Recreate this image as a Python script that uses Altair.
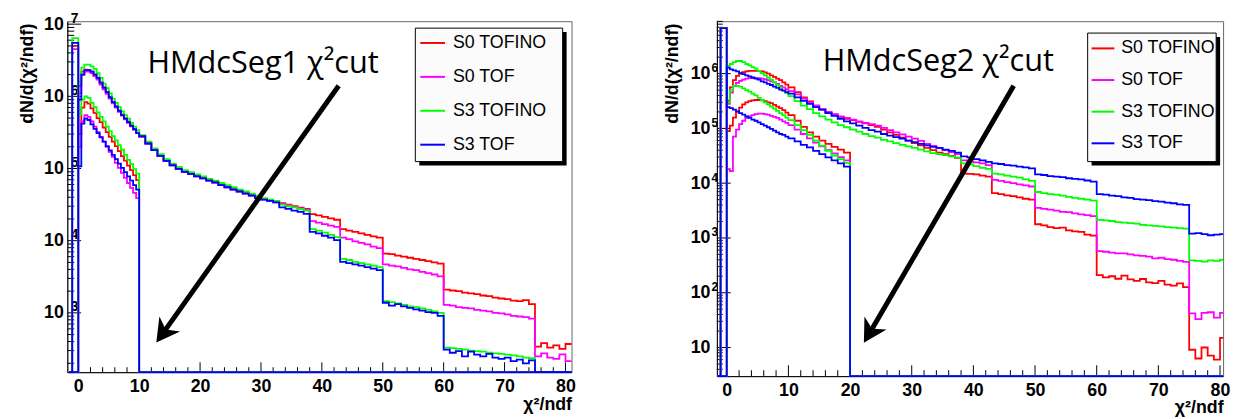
import altair as alt
import pandas as pd

FONT = "Liberation Sans"
SERIES = ["S0 TOFINO", "S0 TOF", "S3 TOFINO", "S3 TOF"]
COLORS = ["#ff0000", "#ff00ff", "#00ff00", "#0000ff"]

# ---- bin edges (chi2/ndf): fine bins near the peak, unit bins in the tail
FINE = [-1.5, -1.0, -0.5] + [k / 2 for k in range(0, 20)]
EDGES_1 = FINE + list(range(10, 81)) + [81]
EDGES_2 = FINE + list(range(10, 81)) + [80.5]

X_LABELS = [0, 10, 20, 30, 40, 50, 60, 70, 80]
X_MINOR = [v for v in range(0, 81, 2) if v % 10 != 0]

# ---- HMdcSeg1 panel: counts per bin (upper = full range, lower = spike + cut at 10)
L_RED_UP = [0, 0, 0,
    1.4e6, 2.2e6, 2.35e6, 2.3e6, 2.2e6, 2.0e6, 1.8e6, 1.55e6, 1.33e6, 1.15e6,
    9.8e5, 8.4e5, 7.3e5, 6.4e5, 5.6e5, 5.0e5, 4.5e5, 4.0e5, 3.55e5, 3.15e5,
    2.8e5, 2.24e5, 1.82e5, 1.51e5, 1.29e5, 1.12e5, 1.0e5, 9.1e4, 8.5e4, 7.9e4,
    7.4e4, 6.9e4, 6.5e4, 6.0e4, 5.6e4, 5.2e4, 4.9e4, 4.6e4, 4.3e4, 4.05e4,
    3.8e4, 3.63e4, 3.47e4, 3.31e4, 3.16e4, 3.02e4, 2.88e4, 2.75e4,
    2.34e4, 2.24e4, 2.14e4, 2.04e4, 1.95e4,
    1.45e4, 1.38e4, 1.32e4, 1.26e4, 1.2e4, 1.15e4, 1.1e4,
    6.6e3, 6.5e3, 6.2e3, 6.0e3, 5.8e3, 5.6e3, 5.4e3, 5.2e3, 5.0e3, 4.8e3,
    2.1e3, 2.04e3, 2.0e3, 1.9e3, 1.86e3, 1.82e3, 1.74e3, 1.7e3, 1.62e3, 1.58e3,
    1.55e3, 1.48e3, 1.45e3, 1.5e3, 1.32e3,
    340, 380, 330, 355, 316, 370]
L_MAG_UP = [0, 0, 0,
    1.1e6, 2.0e6, 2.2e6, 2.2e6, 2.1e6, 1.9e6, 1.7e6, 1.45e6, 1.25e6, 1.08e6,
    9.3e5, 8.0e5, 7.0e5, 6.1e5, 5.4e5, 4.8e5, 4.3e5, 3.85e5, 3.45e5, 3.1e5,
    2.75e5, 2.2e5, 1.8e5, 1.5e5, 1.28e5, 1.11e5, 9.9e4, 9.0e4, 8.4e4, 7.8e4,
    7.3e4, 6.8e4, 6.4e4, 5.9e4, 5.5e4, 5.1e4, 4.8e4, 4.5e4, 4.2e4, 3.95e4,
    3.7e4, 3.55e4, 3.4e4, 3.24e4, 3.1e4, 2.95e4, 2.8e4, 2.7e4,
    1.86e4, 1.78e4, 1.7e4, 1.62e4, 1.55e4,
    1.1e4, 1.05e4, 9.8e3, 9.3e3, 8.9e3, 8.3e3, 7.9e3,
    4.7e3, 4.5e3, 4.4e3, 4.2e3, 4.0e3, 3.9e3, 3.7e3, 3.55e3, 3.4e3, 3.2e3,
    1.29e3, 1.26e3, 1.2e3, 1.17e3, 1.15e3, 1.1e3, 1.07e3, 1.05e3, 1.0e3, 980,
    955, 910, 890, 870, 830,
    250, 275, 240, 230, 265, 215]
L_GRN_UP = [0, 0, 0,
    1.6e6, 2.5e6, 2.75e6, 2.75e6, 2.6e6, 2.4e6, 2.1e6, 1.8e6, 1.5e6, 1.3e6,
    1.1e6, 9.3e5, 8.1e5, 7.1e5, 6.2e5, 5.5e5, 4.9e5, 4.3e5, 3.8e5, 3.4e5,
    2.9e5, 2.35e5, 1.9e5, 1.58e5, 1.35e5, 1.17e5, 1.05e5, 9.5e4, 8.9e4, 8.3e4,
    7.8e4, 7.2e4, 6.8e4, 6.3e4, 5.9e4, 5.5e4, 5.1e4, 4.8e4, 4.5e4, 4.2e4,
    3.9e4, 3.7e4, 3.55e4, 3.16e4, 3.0e4, 2.9e4, 2.75e4, 2.6e4,
    1.45e4, 1.38e4, 1.29e4, 1.2e4, 1.12e4,
    5.6e3, 5.4e3, 5.1e3, 4.9e3, 4.7e3, 4.5e3, 4.3e3,
    1.45e3, 1.41e3, 1.35e3, 1.29e3, 1.23e3, 1.2e3, 1.15e3, 1.1e3, 1.05e3, 1.0e3,
    330, 325, 316, 310, 300, 295, 290, 280, 275, 270, 263, 257, 250, 240, 235,
    0, 0, 0, 0, 0, 0]
L_BLU_UP = [0, 0, 0,
    9.0e5, 2.0e6, 2.3e6, 2.3e6, 2.2e6, 2.0e6, 1.8e6, 1.55e6, 1.32e6, 1.14e6,
    9.7e5, 8.3e5, 7.2e5, 6.3e5, 5.5e5, 4.9e5, 4.4e5, 3.9e5, 3.5e5, 3.1e5,
    2.8e5, 2.22e5, 1.8e5, 1.5e5, 1.28e5, 1.11e5, 9.9e4, 9.0e4, 8.4e4, 7.8e4,
    7.3e4, 6.8e4, 6.4e4, 5.9e4, 5.5e4, 5.1e4, 4.8e4, 4.5e4, 4.2e4, 3.9e4,
    3.7e4, 3.55e4, 3.4e4, 2.9e4, 2.75e4, 2.6e4, 2.5e4, 2.35e4,
    1.32e4, 1.26e4, 1.17e4, 1.1e4, 1.02e4,
    5.1e3, 4.9e3, 4.7e3, 4.5e3, 4.3e3, 4.1e3, 3.9e3,
    1.38e3, 1.26e3, 1.32e3, 1.23e3, 1.17e3, 1.12e3, 1.07e3, 1.02e3, 1.0e3, 910,
    310, 280, 295, 250, 290, 263, 250, 270, 240, 230, 240, 215, 225, 200, 220,
    0, 0, 0, 0, 0, 0]
L_RED_LO = [0, 5.0e6, 5.0e6, 3.0e5, 7.0e5, 8.3e5, 7.9e5, 6.8e5, 5.9e5, 5.0e5, 4.4e5,
    3.7e5, 3.2e5, 2.75e5, 2.35e5, 2.04e5, 1.74e5, 1.48e5, 1.29e5, 1.1e5, 9.5e4, 8.1e4, 6.9e4]
L_MAG_LO = [0, 4.5e6, 4.5e6, 2.0e5, 4.5e5, 5.5e5, 5.2e5, 4.5e5, 3.8e5, 3.2e5, 2.75e5,
    2.35e5, 2.0e5, 1.7e5, 1.45e5, 1.2e5, 1.02e5, 8.7e4, 7.4e4, 6.3e4, 5.4e4, 4.6e4, 3.9e4]
L_GRN_LO = [0, 6.4e6, 6.4e6, 5.6e5, 9.0e5, 1.0e6, 9.5e5, 8.1e5, 7.1e5, 6.0e5, 5.2e5,
    4.5e5, 3.8e5, 3.3e5, 2.8e5, 2.45e5, 2.1e5, 1.82e5, 1.55e5, 1.32e5, 1.15e5, 9.8e4, 8.5e4]
L_BLU_LO = [0, 5.5e6, 5.5e6, 1.07e5, 4.2e5, 4.9e5, 4.7e5, 4.1e5, 3.55e5, 3.1e5, 2.7e5,
    2.35e5, 2.04e5, 1.78e5, 1.55e5, 1.35e5, 1.17e5, 1.02e5, 8.9e4, 7.8e4, 6.8e4, 5.9e4, 5.1e4]

# ---- HMdcSeg2 panel (lower = spike + cut at 20)
R_RED_UP = [0, 0, 0,
    3.2e5, 5.6e5, 7.6e5, 9.1e5, 1.0e6, 1.07e6, 1.1e6, 1.12e6, 1.12e6, 1.12e6,
    1.12e6, 1.1e6, 1.05e6, 1.0e6, 9.3e5, 8.7e5, 8.1e5, 7.6e5, 6.9e5, 6.3e5,
    5.6e5, 4.6e5, 3.7e5, 3.1e5, 2.6e5, 2.2e5, 1.95e5, 1.78e5, 1.62e5, 1.5e5,
    1.41e5, 1.32e5, 1.23e5, 1.15e5, 1.07e5, 9.5e4, 8.5e4, 7.6e4, 6.8e4, 6.0e4,
    5.4e4, 4.9e4, 4.4e4, 4.0e4, 3.6e4, 3.4e4, 3.16e4, 2.9e4,
    1.5e4, 1.48e4, 1.45e4, 1.38e4, 1.32e4,
    6.6e3, 6.3e3, 6.0e3, 5.8e3, 5.5e3, 5.2e3, 5.0e3,
    1.78e3, 1.7e3, 1.58e3, 1.51e3, 1.55e3, 1.38e3, 1.32e3, 1.29e3, 1.15e3, 1.1e3,
    210, 190, 200, 180, 205, 175, 165, 178, 155, 150, 165, 140, 135, 148, 126,
    9.1, 6.3, 10, 7.1, 6.0, 15]
R_MAG_UP = [0, 0, 0,
    2.8e5, 4.5e5, 5.9e5, 6.8e5, 7.4e5, 7.8e5, 8.1e5, 8.3e5, 8.3e5, 8.3e5,
    8.3e5, 8.1e5, 7.9e5, 7.6e5, 7.2e5, 6.9e5, 6.5e5, 6.0e5, 5.6e5, 5.2e5,
    4.8e5, 4.2e5, 3.55e5, 3.0e5, 2.6e5, 2.24e5, 2.0e5, 1.82e5, 1.66e5, 1.55e5,
    1.45e5, 1.35e5, 1.26e5, 1.2e5, 1.12e5, 1.02e5, 9.3e4, 8.5e4, 7.8e4, 7.1e4,
    6.5e4, 5.9e4, 5.2e4, 4.8e4, 4.4e4, 4.0e4, 3.7e4, 3.4e4,
    2.6e4, 2.5e4, 2.4e4, 2.3e4, 2.14e4,
    1.15e4, 1.1e4, 1.05e4, 1.0e4, 9.5e3, 9.1e3, 8.7e3,
    3.55e3, 3.4e3, 3.3e3, 3.16e3, 3.0e3, 2.95e3, 2.8e3, 2.7e3, 2.6e3, 2.5e3,
    575, 560, 540, 525, 525, 500, 480, 470, 455, 425, 435, 410, 400, 380, 365,
    42, 33, 43, 44, 35, 43]
R_GRN_UP = [0, 0, 0,
    1.38e6, 1.5e6, 1.62e6, 1.7e6, 1.7e6, 1.62e6, 1.5e6, 1.41e6, 1.32e6, 1.23e6,
    1.12e6, 1.02e6, 9.3e5, 8.5e5, 7.8e5, 6.9e5, 6.2e5, 5.5e5, 4.9e5, 4.4e5,
    3.9e5, 3.16e5, 2.6e5, 2.24e5, 1.9e5, 1.66e5, 1.45e5, 1.29e5, 1.15e5, 1.05e5,
    9.5e4, 8.7e4, 7.9e4, 7.2e4, 6.8e4, 6.2e4, 5.8e4, 5.4e4, 5.0e4, 4.7e4,
    4.4e4, 4.1e4, 3.8e4, 3.55e4, 3.4e4, 3.24e4, 3.1e4, 2.95e4,
    2.3e4, 2.2e4, 2.04e4, 1.9e4, 1.82e4,
    1.5e4, 1.45e4, 1.38e4, 1.32e4, 1.26e4, 1.17e4, 1.1e4,
    6.9e3, 6.6e3, 6.3e3, 6.2e3, 5.9e3, 5.6e3, 5.4e3, 5.2e3, 5.0e3, 4.8e3,
    2.14e3, 2.1e3, 2.04e3, 1.95e3, 1.9e3, 1.86e3, 1.82e3, 1.74e3, 1.7e3, 1.66e3,
    1.62e3, 1.58e3, 1.55e3, 1.51e3, 1.48e3,
    390, 380, 370, 390, 380, 400]
R_BLU_UP = [0, 0, 0,
    1.29e6, 1.2e6, 1.15e6, 1.1e6, 1.02e6, 9.8e5, 9.3e5, 8.9e5, 8.5e5, 8.1e5,
    7.8e5, 7.2e5, 6.9e5, 6.5e5, 6.2e5, 5.8e5, 5.5e5, 5.1e5, 4.9e5, 4.6e5,
    4.3e5, 3.7e5, 3.2e5, 2.8e5, 2.45e5, 2.2e5, 1.9e5, 1.7e5, 1.5e5, 1.35e5,
    1.23e5, 1.12e5, 1.02e5, 9.3e4, 8.7e4, 7.9e4, 7.4e4, 6.9e4, 6.5e4, 6.0e4,
    5.6e4, 5.2e4, 4.9e4, 4.6e4, 4.4e4, 4.1e4, 3.9e4, 3.6e4,
    3.1e4, 2.95e4, 2.75e4, 2.6e4, 2.45e4,
    2.3e4, 2.24e4, 2.14e4, 2.1e4, 2.0e4, 1.95e4, 1.86e4,
    1.45e4, 1.41e4, 1.35e4, 1.32e4, 1.29e4, 1.23e4, 1.2e4, 1.17e4, 1.12e4, 1.07e4,
    6.3e3, 6.2e3, 5.9e3, 5.8e3, 5.5e3, 5.4e3, 5.1e3, 5.0e3, 4.9e3, 4.7e3,
    4.6e3, 4.4e3, 4.3e3, 4.1e3, 4.0e3,
    1.2e3, 1.23e3, 1.17e3, 1.12e3, 1.15e3, 1.17e3]
R_RED_LO = [0, 6.8e6, 6.8e6,
    8.9e4, 1.12e5, 1.58e5, 2.0e5, 2.4e5, 2.75e5, 3.0e5, 3.16e5, 3.24e5, 3.3e5,
    3.3e5, 3.24e5, 3.16e5, 3.0e5, 2.9e5, 2.7e5, 2.5e5, 2.35e5, 2.15e5, 1.95e5,
    1.74e5, 1.38e5, 1.07e5, 8.5e4, 7.1e4, 6.0e4, 5.2e4, 4.6e4, 4.1e4, 3.6e4]
R_MAG_LO = [0, 6.8e6, 6.8e6,
    1.8e4, 1.66e4, 7.1e4, 9.5e4, 1.2e5, 1.38e5, 1.55e5, 1.66e5, 1.74e5, 1.82e5,
    1.86e5, 1.86e5, 1.82e5, 1.78e5, 1.7e5, 1.62e5, 1.55e5, 1.45e5, 1.35e5, 1.26e5,
    1.15e5, 9.5e4, 7.9e4, 6.6e4, 5.5e4, 4.7e4, 4.0e4, 3.5e4, 3.0e4, 2.6e4]
R_GRN_LO = [0, 6.8e6, 6.8e6,
    3.0e5, 5.0e5, 6.0e5, 6.0e5, 5.8e5, 5.4e5, 5.0e5, 4.7e5, 4.3e5, 4.0e5,
    3.6e5, 3.3e5, 3.0e5, 2.75e5, 2.5e5, 2.3e5, 2.1e5, 1.9e5, 1.74e5, 1.58e5,
    1.41e5, 1.15e5, 9.3e4, 7.6e4, 6.0e4, 4.8e4, 3.9e4, 3.2e4, 2.75e4, 2.35e4]
R_BLU_LO = [0, 6.8e6, 6.8e6,
    2.45e5, 2.35e5, 2.2e5, 2.04e5, 1.9e5, 1.78e5, 1.66e5, 1.55e5, 1.45e5, 1.38e5,
    1.29e5, 1.2e5, 1.12e5, 1.05e5, 9.8e4, 9.1e4, 8.5e4, 7.9e4, 7.6e4, 7.1e4,
    6.6e4, 5.8e4, 5.0e4, 4.5e4, 3.9e4, 3.4e4, 2.95e4, 2.6e4, 2.3e4, 2.0e4]

# ---- axis decades and exponent labels
DEC_1 = [1000, 10000, 100000, 1000000, 10000000]
EXP_1 = ["3", "4", "5", "6", "7"]
DEC_2 = [10, 100, 1000, 10000, 100000, 1000000]
EXP_2 = ["", "2", "3", "4", "5", "6"]

# ---- annotations (data coordinates)
TEXT_1 = ("HMdcSeg1 χ²cut", 11.35, 2.13e6)
TEXT_2 = ("HMdcSeg2 χ²cut", 15.55, 1.12e6)
ARROW_1 = {"x": [42.76, 14.33], "y": [1.40e6, 585], "tip": (12.81, 388), "angle": 216}
ARROW_2 = {"x": [46.54, 23.53], "y": [6.0e5, 21.6], "tip": (22.24, 12.2), "angle": 210.5}
ARROW_SHAPE = "M0,0 L0.95,1.7 L0,1.2 L-0.95,1.7 Z"


def build_table(edges, curves, floor):
    rows = []
    n = len(edges) - 1
    for name, part, vals in curves:
        full = (list(vals) + [0] * n)[:n]
        for i in range(n):
            v = full[i]
            rows.append({"x": edges[i], "y": v if v > 0 else floor,
                         "series": name, "curve": name + part})
        v = full[-1]
        rows.append({"x": edges[-1], "y": v if v > 0 else floor,
                     "series": name, "curve": name + part})
    return pd.DataFrame(rows)


def yticks_layer(vals, ys, size):
    d = pd.DataFrame({"v": vals})
    return alt.Chart(d).mark_rule(color="black", strokeWidth=1).encode(
        y=alt.Y("v:Q", scale=ys, axis=None), x=alt.value(0), x2=alt.value(size))


def xticks_layer(vals, xs, H, size):
    d = pd.DataFrame({"v": vals})
    return alt.Chart(d).mark_rule(color="black", strokeWidth=1).encode(
        x=alt.X("v:Q", scale=xs, axis=None), y=alt.value(H), y2=alt.value(H - size))


def panel(p):
    W, H = p["W"], p["H"]
    df = build_table(p["edges"], p["curves"], p["ydom"][0])
    xs = alt.Scale(domain=p["xdom"], nice=False, zero=False)
    ys = alt.Scale(type="log", domain=p["ydom"], nice=False)
    ymin, ymax = p["ydom"]
    ymajor = [10 ** k for k in range(0, 8) if ymin <= 10 ** k <= ymax]
    yminor = [m * 10 ** k for k in range(0, 8) for m in range(2, 10)
              if ymin <= m * 10 ** k <= ymax]
    exp_expr = " : ".join(f"datum.value == {d} ? '{e}'"
                          for d, e in zip(p["decades"], p["exps"])) + " : ''"
    one = pd.DataFrame({"x": [p["xdom"][0]], "y": [ymin]})

    bx0, by0, bx1, by1 = p["box"]
    shadow = alt.Chart(one).mark_rect(color="black").encode(
        x=alt.value(bx0 + 4), x2=alt.value(bx1 + 4),
        y=alt.value(by0 + 4), y2=alt.value(by1 + 4))
    box = alt.Chart(one).mark_rect(fill="#fbfbfb", stroke="black", strokeWidth=1).encode(
        x=alt.value(bx0), x2=alt.value(bx1), y=alt.value(by0), y2=alt.value(by1))

    legend = alt.Legend(
        orient="none", legendX=p["legX"], legendY=p["legY"], title=None,
        symbolType="stroke", symbolSize=p["sym"] ** 2, symbolStrokeWidth=2,
        labelFont=FONT, labelFontSize=p["legFont"], labelColor="black",
        labelOffset=p["legOff"], rowPadding=p["rowPad"], padding=0)

    lines = alt.Chart(df).mark_line(interpolate="step-after", strokeWidth=1.8).encode(
        x=alt.X("x:Q", scale=xs, axis=alt.Axis(
            orient="bottom", values=X_LABELS, format="d", ticks=False, tickSize=0,
            grid=False, domainColor="black", domainWidth=1,
            labelFont=FONT, labelFontSize=18, labelFontWeight="bold", labelColor="black",
            labelPadding=6, labelFlush=False,
            title="χ²/ndf", titleFont=FONT, titleFontSize=18, titleFontWeight="bold",
            titleColor="black", titleX=W, titleY=p["xtitleY"], titleAlign="right",
            titleBaseline="alphabetic", titleAngle=0)),
        y=alt.Y("y:Q", scale=ys, axis=alt.Axis(
            orient="left", values=p["decades"], labelExpr="'10'", ticks=False, tickSize=0,
            grid=False, domainColor="black", domainWidth=1,
            labelFont=FONT, labelFontSize=18, labelFontWeight="bold", labelColor="black",
            labelPadding=p["ylabPad"], labelFlush=False,
            title="dN/d(χ²/ndf)", titleFont=FONT, titleFontSize=18, titleFontWeight="bold",
            titleColor="black", titleX=p["ytitleX"], titleY=p["ytitleY"], titleAngle=270,
            titleAlign="right", titleBaseline="middle")),
        color=alt.Color("series:N", scale=alt.Scale(domain=SERIES, range=COLORS),
                        legend=legend),
        detail="curve:N",
    )

    tick_layers = [
        yticks_layer(ymajor, ys, p["yMajor"]),
        yticks_layer(yminor, ys, p["yMinor"]),
        xticks_layer(X_LABELS, xs, H, p["xMajor"]),
        xticks_layer(X_MINOR, xs, H, p["xMinor"]),
    ]

    exps = alt.Chart(one).mark_point(opacity=0).encode(
        x=alt.X("x:Q", scale=xs, axis=None),
        y=alt.Y("y:Q", scale=ys, axis=alt.Axis(
            orient=p["expOrient"], offset=p["expOffset"], values=p["decades"],
            labelExpr=exp_expr, ticks=False, tickSize=0, domain=False, grid=False,
            labelAlign="left", labelPadding=p["expPad"], labelFont=FONT,
            labelFontSize=p["expFont"], labelFontWeight="bold", labelColor="black",
            labelOffset=-6, labelFlush=False, title=None)),
    )

    t, tx, ty = p["text"]
    tdf = pd.DataFrame({"x": [tx], "y": [ty], "t": [t]})
    text = alt.Chart(tdf).mark_text(align="left", baseline="alphabetic", font="Open Sans",
                                    fontSize=31, color="black").encode(
        x=alt.X("x:Q", scale=xs, axis=None), y=alt.Y("y:Q", scale=ys, axis=None), text="t:N")

    a = p["arrow"]
    adf = pd.DataFrame({"x": a["x"], "y": a["y"]})
    shaft = alt.Chart(adf).mark_line(color="black", strokeWidth=5, strokeCap="butt").encode(
        x=alt.X("x:Q", scale=xs, axis=None), y=alt.Y("y:Q", scale=ys, axis=None))
    hdf = pd.DataFrame({"x": [a["tip"][0]], "y": [a["tip"][1]]})
    head = alt.Chart(hdf).mark_point(shape=ARROW_SHAPE, size=740, angle=a["angle"],
                                     filled=True, color="black", opacity=1,
                                     strokeWidth=0).encode(
        x=alt.X("x:Q", scale=xs, axis=None), y=alt.Y("y:Q", scale=ys, axis=None))

    return alt.layer(shadow, box, *tick_layers, lines, exps, text, shaft, head).resolve_axis(
        x="independent", y="independent").properties(width=W, height=H)


P1 = dict(
    edges=EDGES_1, W=510, H=355, xdom=[-1.8, 81], ydom=[150.6, 1.099e7],
    curves=[("S0 TOFINO", " up", L_RED_UP), ("S0 TOFINO", " lo", L_RED_LO),
            ("S0 TOF", " up", L_MAG_UP), ("S0 TOF", " lo", L_MAG_LO),
            ("S3 TOFINO", " up", L_GRN_UP), ("S3 TOFINO", " lo", L_GRN_LO),
            ("S3 TOF", " up", L_BLU_UP), ("S3 TOF", " lo", L_BLU_LO)],
    decades=DEC_1, exps=EXP_1, ylabPad=4, ytitleX=-40, ytitleY=2, xtitleY=38,
    expOrient="right", expOffset=-510, expPad=3, expFont=14,
    legX=356, legY=8.5, sym=25, legFont=18, legOff=7, rowPad=11.3,
    box=(352, 7, 501, 142), xMajor=10, xMinor=5, yMajor=14, yMinor=7,
    text=TEXT_1, arrow=ARROW_1)

P2 = dict(
    edges=EDGES_2, W=512, H=359, xdom=[-1.6, 80.5], ydom=[3.0, 9.06e6],
    curves=[("S0 TOFINO", " up", R_RED_UP), ("S0 TOFINO", " lo", R_RED_LO),
            ("S0 TOF", " up", R_MAG_UP), ("S0 TOF", " lo", R_MAG_LO),
            ("S3 TOFINO", " up", R_GRN_UP), ("S3 TOFINO", " lo", R_GRN_LO),
            ("S3 TOF", " up", R_BLU_UP), ("S3 TOF", " lo", R_BLU_LO)],
    decades=DEC_2, exps=EXP_2, ylabPad=7, ytitleX=-45, ytitleY=2, xtitleY=37,
    expOrient="left", expOffset=0, expPad=6, expFont=12,
    legX=378, legY=15, sym=23, legFont=18, legOff=6, rowPad=10,
    box=(375, 12, 505, 142), xMajor=11, xMinor=6, yMajor=14, yMinor=6,
    text=TEXT_2, arrow=ARROW_2)

chart = alt.hconcat(panel(P1), panel(P2), spacing=87).resolve_scale(
    color="independent").resolve_legend(color="independent").properties(
    padding={"left": 10, "top": 0, "right": 0, "bottom": 0},
    background="white").configure_view(stroke="#666666", strokeWidth=1)

chart.save("out.html", embed_options={"renderer": "svg", "actions": False})
